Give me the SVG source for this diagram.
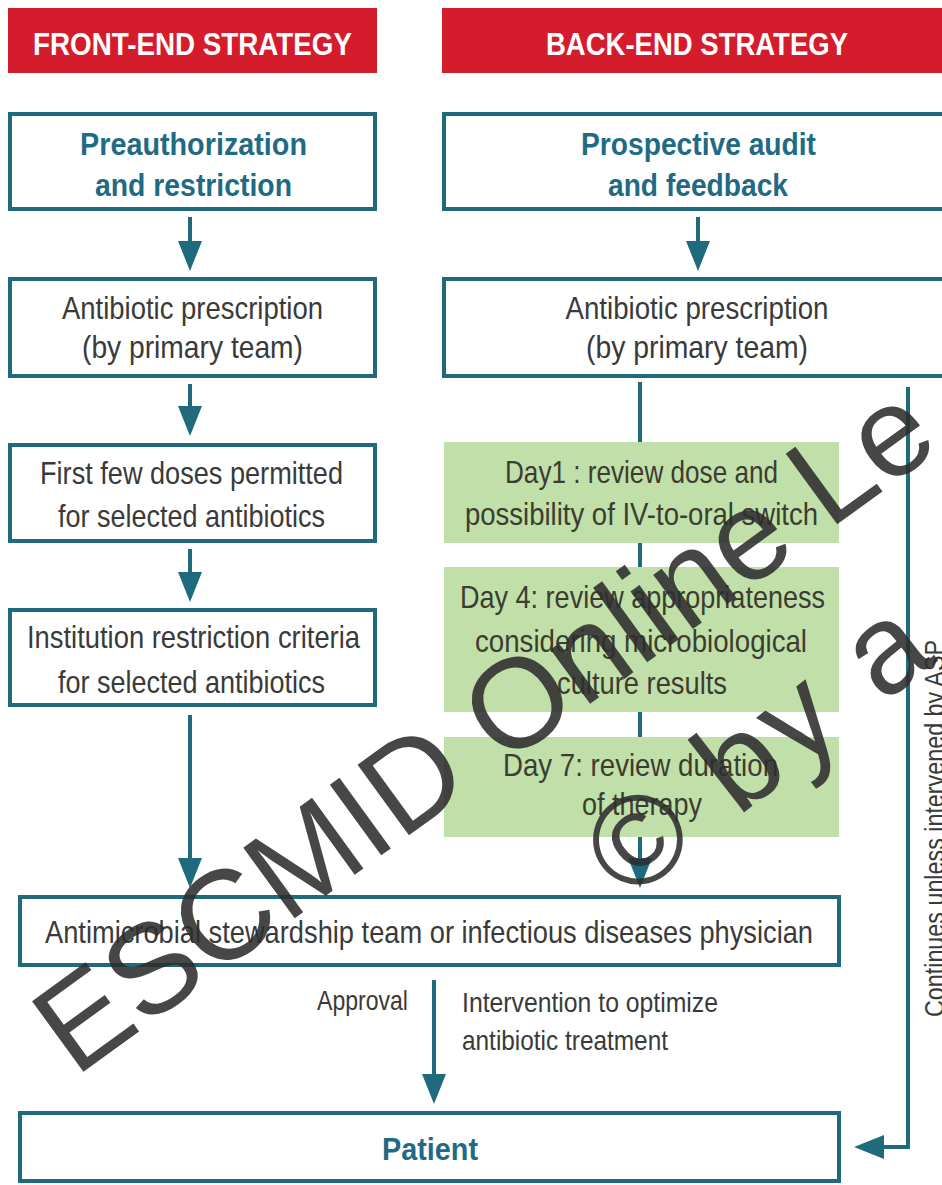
<svg xmlns="http://www.w3.org/2000/svg" width="942" height="1185" viewBox="0 0 942 1185">
<style>
.bg{fill:#ffffff}
.hbar{fill:#d41c2c}
.box{fill:#ffffff;stroke:#1f6b7d;stroke-width:4}
.grnbox{fill:#c0dfa9}
.hdr{font-family:"Liberation Sans",Arial,sans-serif;font-weight:bold;font-size:32px;fill:#ffffff;text-anchor:middle}
.ttl{font-family:"Liberation Sans",Arial,sans-serif;font-weight:bold;font-size:31px;fill:#1f6a84;text-anchor:middle}
.txt{font-family:"Liberation Sans",Arial,sans-serif;font-size:32px;fill:#3a3a3a;text-anchor:middle}
.gtx{font-family:"Liberation Sans",Arial,sans-serif;font-size:32px;fill:#3c3d30;text-anchor:middle}
.sm{font-family:"Liberation Sans",Arial,sans-serif;font-size:28px;fill:#3a3a3a}
.conn{fill:none;stroke:#1f6b7d;stroke-width:4}
.wm{font-family:"Liberation Sans",Arial,sans-serif;font-size:127px;fill:#2e2e2e;fill-opacity:0.88}
</style>
<defs>
<marker id="ah" markerUnits="userSpaceOnUse" markerWidth="30" markerHeight="24" viewBox="0 0 30 24" refX="20" refY="12" orient="auto">
<path d="M0,0 L30,12 L0,24 Z" fill="#1f6b7d"/>
</marker>
</defs>
<rect class="bg" x="0" y="0" width="942" height="1185"/>

<g id="hdr-front">
<rect class="hbar" x="8" y="8" width="369" height="65"/>
<text class="hdr" x="192.5" y="55" textLength="319" lengthAdjust="spacingAndGlyphs">FRONT-END STRATEGY</text>
</g>
<g id="hdr-back">
<rect class="hbar" x="442" y="8" width="510" height="65"/>
<text class="hdr" x="697" y="55" textLength="302" lengthAdjust="spacingAndGlyphs">BACK-END STRATEGY</text>
</g>

<g id="n-preauth">
<rect class="box" x="10" y="114" width="365" height="95"/>
<text class="ttl" x="193.5" y="155" textLength="227" lengthAdjust="spacingAndGlyphs">Preauthorization</text>
<text class="ttl" x="193.5" y="196" textLength="197" lengthAdjust="spacingAndGlyphs">and restriction</text>
</g>
<g id="n-audit">
<rect class="box" x="444" y="114" width="506" height="95"/>
<text class="ttl" x="698.5" y="155" textLength="235" lengthAdjust="spacingAndGlyphs">Prospective audit</text>
<text class="ttl" x="698" y="196" textLength="180" lengthAdjust="spacingAndGlyphs">and feedback</text>
</g>

<g id="n-rx-left">
<rect class="box" x="10" y="279" width="365" height="97"/>
<text class="txt" x="192.5" y="319" textLength="261" lengthAdjust="spacingAndGlyphs">Antibiotic prescription</text>
<text class="txt" x="192.5" y="358" textLength="221" lengthAdjust="spacingAndGlyphs">(by primary team)</text>
</g>
<g id="n-rx-right">
<rect class="box" x="444" y="279" width="506" height="97"/>
<text class="txt" x="697" y="319" textLength="263" lengthAdjust="spacingAndGlyphs">Antibiotic prescription</text>
<text class="txt" x="697" y="358" textLength="222" lengthAdjust="spacingAndGlyphs">(by primary team)</text>
</g>

<g id="n-firstdoses">
<rect class="box" x="10" y="445" width="365" height="96"/>
<text class="txt" x="191.5" y="484" textLength="303" lengthAdjust="spacingAndGlyphs">First few doses permitted</text>
<text class="txt" x="191.5" y="527" textLength="267" lengthAdjust="spacingAndGlyphs">for selected antibiotics</text>
</g>
<g id="n-criteria">
<rect class="box" x="10" y="610" width="365" height="95"/>
<text class="txt" x="193.5" y="648" textLength="333" lengthAdjust="spacingAndGlyphs">Institution restriction criteria</text>
<text class="txt" x="191.5" y="693" textLength="267" lengthAdjust="spacingAndGlyphs">for selected antibiotics</text>
</g>

<g id="n-day1">
<rect class="grnbox" x="444" y="442" width="395" height="101"/>
<text class="gtx" x="641.5" y="483" textLength="273" lengthAdjust="spacingAndGlyphs">Day1 : review dose and</text>
<text class="gtx" x="641.5" y="525" textLength="353" lengthAdjust="spacingAndGlyphs">possibility of IV-to-oral switch</text>
</g>
<g id="n-day4">
<rect class="grnbox" x="444" y="567" width="395" height="145"/>
<text class="gtx" x="642.5" y="608" textLength="365" lengthAdjust="spacingAndGlyphs">Day 4: review appropriateness</text>
<text class="gtx" x="641" y="652" textLength="332" lengthAdjust="spacingAndGlyphs">considering microbiological</text>
<text class="gtx" x="642" y="694" textLength="170" lengthAdjust="spacingAndGlyphs">culture results</text>
</g>
<g id="n-day7">
<rect class="grnbox" x="444" y="737" width="395" height="100"/>
<text class="gtx" x="640.5" y="776" textLength="275" lengthAdjust="spacingAndGlyphs">Day 7: review duration</text>
<text class="gtx" x="642" y="815" textLength="120" lengthAdjust="spacingAndGlyphs">of therapy</text>
</g>

<g id="n-asp">
<rect class="box" x="20" y="897" width="819" height="68"/>
<text class="txt" x="429" y="943" textLength="768" lengthAdjust="spacingAndGlyphs">Antimicrobial stewardship team or infectious diseases physician</text>
</g>
<g id="n-patient">
<rect class="box" x="20" y="1113" width="819" height="68"/>
<text class="ttl" x="430" y="1160" textLength="96" lengthAdjust="spacingAndGlyphs">Patient</text>
</g>

<g id="connectors">
<path class="conn" d="M190,217 V261" marker-end="url(#ah)"/>
<path class="conn" d="M190,384 V426" marker-end="url(#ah)"/>
<path class="conn" d="M190,549 V592" marker-end="url(#ah)"/>
<path class="conn" d="M190,715 V878" marker-end="url(#ah)"/>
<path class="conn" d="M698,217 V261" marker-end="url(#ah)"/>
<path class="conn" d="M640,382 V442"/>
<path class="conn" d="M640,543 V567"/>
<path class="conn" d="M640,712 V737"/>
<path class="conn" d="M640,837 V878" marker-end="url(#ah)"/>
<path class="conn" d="M434,980 V1094" marker-end="url(#ah)"/>
<path class="conn" d="M908,387 V1147 H864" marker-end="url(#ah)"/>
<text class="sm" x="408" y="1010" text-anchor="end" textLength="91" lengthAdjust="spacingAndGlyphs">Approval</text>
<text class="sm" x="462" y="1012" textLength="256" lengthAdjust="spacingAndGlyphs">Intervention to optimize</text>
<text class="sm" x="462" y="1050" textLength="206" lengthAdjust="spacingAndGlyphs">antibiotic treatment</text>
<text class="sm" transform="translate(944,1017) rotate(-90)" x="0" y="0" textLength="377" lengthAdjust="spacingAndGlyphs">Continues unless intervened by ASP</text>
</g>

<g id="watermark">
<text class="wm" transform="translate(75,1078) rotate(-36)" x="0" y="0">ESCMID Online Le</text>
<text class="wm" transform="translate(628,903) rotate(-38)" x="0" y="0" letter-spacing="5">© by a</text>
</g>
</svg>
